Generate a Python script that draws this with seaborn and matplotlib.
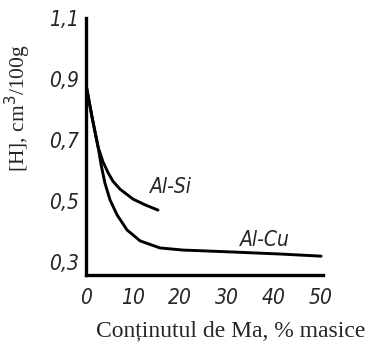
import matplotlib
matplotlib.use("Agg")
import matplotlib.pyplot as plt
import seaborn as sns
import pandas as pd

# data
alsi_x = [0, 1.3, 2.55, 3.6, 4.7, 5.7, 7.2, 10, 12.6, 15.3]
alsi_y = [0.88, 0.772, 0.677, 0.628, 0.592, 0.565, 0.539, 0.506, 0.487, 0.47]
alcu_x = [0, 1.3, 2.55, 3.2, 4.0, 5.1, 6.6, 8.7, 11.5, 15.7, 20.6, 30.6, 41.3, 50]
alcu_y = [0.88, 0.772, 0.677, 0.618, 0.559, 0.503, 0.454, 0.405, 0.369, 0.346, 0.339, 0.333, 0.326, 0.319]
xticks = [0, 10, 20, 30, 40, 50]
yticks = [0.3, 0.5, 0.7, 0.9, 1.1]
ytick_labels = ["0,3", "0,5", "0,7", "0,9", "1,1"]
series_names = ["Al-Si", "Al-Cu"]
label_pos = [(18.1, 0.546), (38.1, 0.372)]

df = pd.concat([
    pd.DataFrame({"x": alsi_x, "y": alsi_y, "s": series_names[0]}),
    pd.DataFrame({"x": alcu_x, "y": alcu_y, "s": series_names[1]}),
])

sns.set_style("white")
tick_font = ["DejaVu Sans"]

fig = plt.figure(figsize=(3.68, 3.54), dpi=100)
ax = fig.add_axes([0.234, 0.223, 0.645, 0.726])

sns.lineplot(data=df, x="x", y="y", hue="s", palette=["black", "black"],
             linewidth=2.1, legend=False, ax=ax, sort=False)

ax.set_xlim(0, 50.5)
ax.set_ylim(0.257, 1.1)
ax.set_xticks(xticks)
ax.set_xticklabels([str(t) for t in xticks])
ax.set_yticks(yticks)
ax.set_yticklabels(ytick_labels)
for lbl in ax.get_xticklabels() + ax.get_yticklabels():
    lbl.set_fontstyle("italic")
    lbl.set_fontfamily(tick_font)
    lbl.set_fontstretch("condensed")
    lbl.set_fontsize(15)
ax.tick_params(axis="both", direction="in", length=4, width=1.5, color="black")
ax.tick_params(axis="y", pad=5)
ax.tick_params(axis="x", pad=9)

for side in ["top", "right"]:
    ax.spines[side].set_visible(False)
for side in ["left", "bottom"]:
    ax.spines[side].set_linewidth(2.4)
    ax.spines[side].set_color("black")

for name, (lx, ly) in zip(series_names, label_pos):
    ax.text(lx, ly, name, fontsize=15, fontstyle="italic", fontstretch="condensed",
            ha="center", va="center", family=tick_font)

ax.set_xlabel("Conținutul de Ma, % masice", fontsize=17, family="Liberation Serif")
ax.set_ylabel("[H], cm$^3$/100g", fontsize=15.5, family="Liberation Serif")
ax.xaxis.set_label_coords(0.61, -0.175)
ax.yaxis.set_label_coords(-0.224, 0.65)

fig.savefig("out.png", dpi=100)
